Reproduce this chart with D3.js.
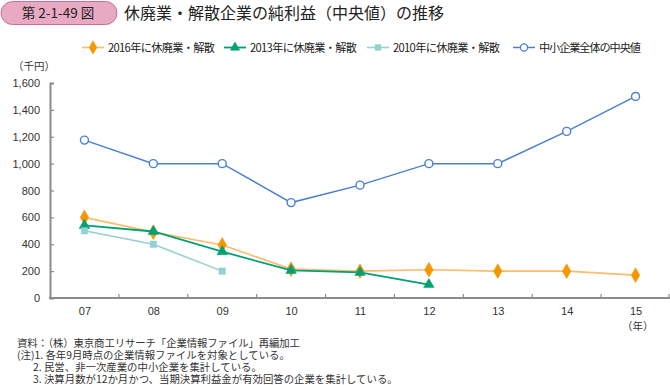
<!DOCTYPE html>
<html>
<head>
<meta charset="utf-8">
<script src="https://cdn.jsdelivr.net/npm/d3@7"></script>
<style>
  body { margin: 0; background: #fff; }
  svg { font-family: "Noto Sans CJK JP", "Noto Sans", sans-serif; }
</style>
</head>
<body>
<div id="chart"></div>
<script>
// data
var years = ["07", "08", "09", "10", "11", "12", "13", "14", "15"];
var closed2016 = [600, 490, 395, 215, 200, 210, 200, 200, 170];
var closed2013 = [540, 495, 345, 205, 190, 100];
var closed2010 = [500, 400, 200];
var smeMedian = [1175, 1000, 1000, 710, 840, 1000, 1000, 1240, 1500];
var yTicks = [0, 200, 400, 600, 800, 1000, 1200, 1400, 1600];

var seriesNames = ["2016年に休廃業・解散", "2013年に休廃業・解散", "2010年に休廃業・解散", "中小企業全体の中央値"];
var notes = [
    "資料：（株）東京商工リサーチ「企業情報ファイル」再編加工",
    "(注)1. 各年9月時点の企業情報ファイルを対象としている。",
    "2. 民営、非一次産業の中小企業を集計している。",
    "3. 決算月数が12か月かつ、当期決算利益金が有効回答の企業を集計している。"
];

var series = [
    { name: seriesNames[0], values: closed2016, line: "#fbbd6c", fill: "#f39800", stroke: "#f39800", shape: d3.symbolDiamond, size: 64, lw: 1.6 },
    { name: seriesNames[1], values: closed2013, line: "#00a077", fill: "#00a077", stroke: "#00a077", shape: d3.symbolTriangle, size: 48, lw: 1.8 },
    { name: seriesNames[2], values: closed2010, line: "#93d1d3", fill: "#93d1d3", stroke: "#93d1d3", shape: d3.symbolSquare, size: 42, lw: 1.6 },
    { name: seriesNames[3], values: smeMedian, line: "#4a80d0", fill: "#fff", stroke: "#4a80d0", shape: d3.symbolCircle, size: 50, lw: 1.5 }
];

var W = 670, H = 385;
var svg = d3.select("#chart").append("svg")
    .attr("width", W)
    .attr("height", H);

// title badge
svg.append("rect")
    .attr("x", 1).attr("y", 1.5)
    .attr("width", 116).attr("height", 23)
    .attr("rx", 11.5)
    .style("fill", "#e8aac2")
    .style("stroke", "#cf6f97")
    .style("stroke-width", 1);
svg.append("text")
    .attr("x", 58).attr("y", 18)
    .attr("text-anchor", "middle")
    .style("font-size", "13.5px")
    .style("fill", "#222")
    .text("第 2-1-49 図");
svg.append("text")
    .attr("x", 124).attr("y", 19)
    .style("font-size", "16px")
    .style("fill", "#222")
    .text("休廃業・解散企業の純利益（中央値）の推移");

var margin = { left: 50, right: 0, top: 83, bottom: 87 };

var xband = d3.scaleBand()
    .domain(years)
    .range([margin.left, W - margin.right]);

var xscale = function (c) { return xband(c) + xband.bandwidth() / 2; };

var yscale = d3.scaleLinear()
    .domain([0, 1600])
    .range([H - margin.bottom, margin.top]);

var axisColour = "#8c8c8c";

// y axis
var gY = svg.append("g")
    .attr("transform", "translate(" + margin.left + ",0)")
    .call(d3.axisLeft(yscale).tickValues(yTicks).tickSize(-4).tickPadding(10).tickFormat(d3.format(",")));
gY.select(".domain").style("stroke", axisColour).style("stroke-width", 2);
gY.selectAll(".tick line").style("stroke", axisColour).style("stroke-width", 1.2);
gY.selectAll(".tick text").style("font-size", "11px").style("fill", "#333").attr("font-family", "inherit");

// x axis: labels centred, ticks at band edges
var gX = svg.append("g")
    .attr("transform", "translate(0," + yscale(0) + ")")
    .call(d3.axisBottom(d3.scalePoint().domain(years).range([xscale(years[0]), xscale(years[years.length - 1])]))
        .tickSize(0).tickPadding(9));
gX.select(".domain").remove();
gX.selectAll(".tick text").style("font-size", "11px").style("fill", "#333").attr("font-family", "inherit");

svg.append("line")
    .attr("x1", margin.left - 1).attr("x2", W)
    .attr("y1", yscale(0)).attr("y2", yscale(0))
    .style("stroke", axisColour).style("stroke-width", 2);

svg.selectAll(".xtick")
    .data(years.slice(1).concat(["end"]))
    .enter().append("line")
    .attr("class", "xtick")
    .attr("x1", function (d) { return d === "end" ? W - 1 : xband(d); })
    .attr("x2", function (d) { return d === "end" ? W - 1 : xband(d); })
    .attr("y1", yscale(0))
    .attr("y2", yscale(0) - 4)
    .style("stroke", axisColour).style("stroke-width", 1.2);

// unit labels
svg.append("text")
    .attr("x", 13).attr("y", 70)
    .style("font-size", "10.5px").style("fill", "#333")
    .text("（千円）");
svg.append("text")
    .attr("x", 622).attr("y", 330)
    .style("font-size", "10.5px").style("fill", "#333")
    .text("（年）");

// lines and markers
var line = d3.line()
    .x(function (d, i) { return xscale(years[i]); })
    .y(function (d) { return yscale(d); });

series.forEach(function (s) {
    var g = svg.append("g").attr("class", "series");
    g.append("path")
        .datum(s.values)
        .attr("d", line)
        .style("fill", "none")
        .style("stroke", s.line)
        .style("stroke-width", s.lw);
    g.selectAll(".point")
        .data(s.values)
        .enter().append("path")
        .attr("class", "point")
        .attr("transform", function (d, i) { return "translate(" + xscale(years[i]) + "," + yscale(d) + ")"; })
        .attr("d", d3.symbol().type(s.shape).size(s.size))
        .style("fill", s.fill)
        .style("stroke", s.stroke)
        .style("stroke-width", s.shape === d3.symbolCircle ? 1.4 : 0.5);
});

// legend
var legendX = [82, 224, 367, 513];
var legend = svg.selectAll(".legend")
    .data(series)
    .enter().append("g")
    .attr("class", "legend")
    .attr("transform", function (d, i) { return "translate(" + legendX[i] + ",47.5)"; });
legend.append("line")
    .attr("x1", 0).attr("x2", 22)
    .style("stroke", function (d) { return d.line; })
    .style("stroke-width", function (d) { return d.lw; });
legend.append("path")
    .attr("transform", "translate(11,0)")
    .attr("d", function (d) { return d3.symbol().type(d.shape).size(d.size * 0.8)(); })
    .style("fill", function (d) { return d.fill; })
    .style("stroke", function (d) { return d.stroke; })
    .style("stroke-width", function (d) { return d.shape === d3.symbolCircle ? 1.3 : 0.5; });
legend.append("text")
    .attr("x", 26).attr("y", 4)
    .attr("textLength", function (d, i) { return i === 3 ? 102 : 107; })
    .style("font-size", "11.2px").style("fill", "#222")
    .text(function (d) { return d.name; });

// notes
var noteX = [17, 17, 33, 33];
svg.selectAll(".note")
    .data(notes)
    .enter().append("text")
    .attr("class", "note")
    .attr("x", function (d, i) { return noteX[i]; })
    .attr("y", function (d, i) { return 347 + i * 12; })
    .attr("textLength", function (d, i) { return i === 0 ? 283 : null; })
    .style("font-size", "10.4px")
    .style("fill", "#333")
    .text(function (d) { return d; });
</script>
</body>
</html>
